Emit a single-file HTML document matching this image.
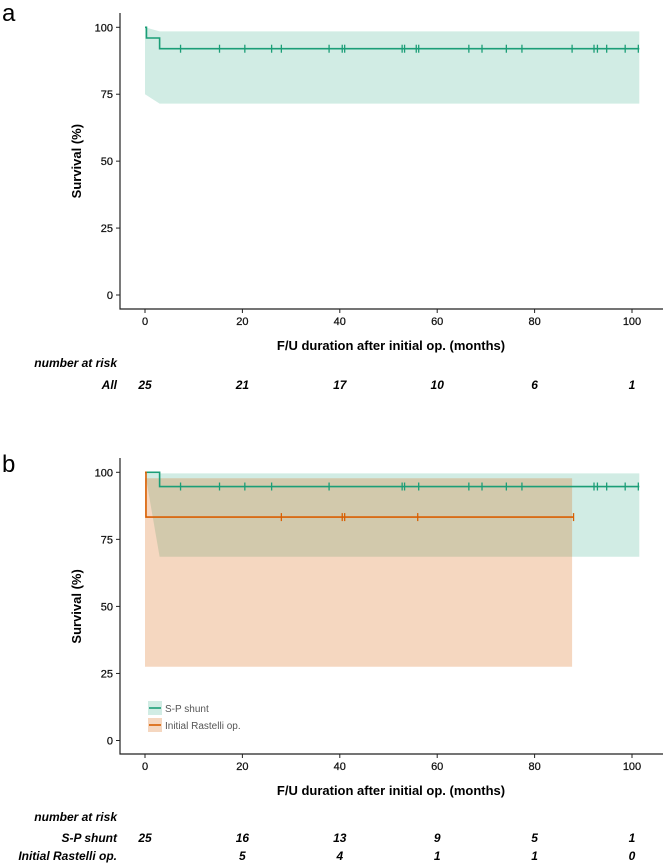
<!DOCTYPE html>
<html><head><meta charset="utf-8"><style>
body{margin:0;background:#fff}
svg{display:block;font-family:"Liberation Sans",sans-serif}
</style></head><body>
<svg id="c" width="669" height="866" viewBox="0 0 669 866"></svg>
<script>
const xTicks=[0,20,40,60,80,100];
const yTicks=[0,25,50,75,100];
const aTime=[0,0.3,3,101.5];
const aSurv=[100,96,92,92];
const aCens=[7.3,15.3,20.5,26,28,37.8,40.5,41,52.8,53.3,55.7,56.2,66.5,69.2,74.2,77.4,87.7,92.2,92.9,94.8,98.6,101.3];
const aUpperT=[0,3,101.5];const aUpper=[100,98.5,98.5];
const aLowerT=[0,3,101.5];const aLower=[75,71.5,71.5];
const aRisk=[25,21,17,10,6,1];
const spTime=[0,3,101.5];const spSurv=[100,94.7,94.7];
const spCens=[7.3,15.3,20.5,26,37.8,52.8,53.3,56.2,66.5,69.2,74.2,77.4,92.2,92.9,94.8,98.6,101.3];
const spUpperT=[0,101.5];const spUpper=[99.6,99.6];
const spLowerT=[0,3,101.5];const spLower=[100,68.5,68.5];
const raTime=[0,0.2,88];const raSurv=[100,83.3,83.3];
const raCens=[28,40.5,41,56,88];
const raUpperT=[0,87.7];const raUpper=[97.8,97.8];
const raLowerT=[0,87.7];const raLower=[27.5,27.5];
const spRisk=[25,16,13,9,5,1];
const raRisk=[null,5,4,1,1,0];

const svg=document.getElementById('c');const NS='http://www.w3.org/2000/svg';
function el(t,a,p){const e=document.createElementNS(NS,t);for(const k in a)e.setAttribute(k,a[k]);(p||svg).appendChild(e);return e;}
function txt(s,a,p){const e=el('text',a,p);e.textContent=s;return e;}
const X=v=>145+v*(632-145)/100;
const GREEN='#1b9e77',ORANGE='#d95f02';

function panel(o){
 const g=el('g',{});
 const Y=v=>o.y0+(o.y100-o.y0)*v/100;
 const lab=txt(o.letter,{x:2,y:o.letterY,'font-size':24,fill:'#000'},g);
 
 o.series.forEach(s=>{
  let d='M'+X(s.ut[0])+','+Y(s.u[0]);
  for(let i=1;i<s.ut.length;i++)d+=' L'+X(s.ut[i])+','+Y(s.u[i]);
  for(let i=s.lt.length-1;i>=0;i--)d+=' L'+X(s.lt[i])+','+Y(s.l[i]);
  const f=el('path',{d:d+'Z',fill:s.color,'fill-opacity':s.op},g);
  
 });
 o.series.forEach(s=>{
  let d='M'+X(s.t[0])+','+Y(s.s[0]);
  for(let i=1;i<s.t.length;i++)d+=' H'+X(s.t[i])+' V'+Y(s.s[i]);
  d+=' H'+X(s.t[s.t.length-1]);
  const p=el('path',{d:d,fill:'none',stroke:s.color,'stroke-width':1.6},g);
  
  const sv=s.s[s.s.length-1];
  s.c.forEach(c=>{const m=el('line',{x1:X(c),x2:X(c),y1:Y(sv)-4,y2:Y(sv)+4,stroke:s.color,'stroke-width':1.3},g);
   });
 });
 const ax=el('path',{d:`M120,${o.top} V${o.axisY} H663`,fill:'none',stroke:'#222','stroke-width':1.2},g);
 
 yTicks.forEach(v=>{el('line',{x1:116,x2:120,y1:Y(v),y2:Y(v),stroke:'#222'},g);
  const t=txt(v,{x:113,y:Y(v)+4,'font-size':11,'text-anchor':'end',fill:'#111',stroke:'#111','stroke-width':0.25},g);
  });
 xTicks.forEach(v=>{el('line',{x1:X(v),x2:X(v),y1:o.axisY,y2:o.axisY+4,stroke:'#222'},g);
  const t=txt(v,{x:X(v),y:o.axisY+16,'font-size':11,'text-anchor':'middle',fill:'#111',stroke:'#111','stroke-width':0.25},g);
  });
 const yt=txt('Survival (%)',{x:0,y:0,'font-size':13,'font-weight':'bold','text-anchor':'middle',transform:`translate(81,${(o.y0+o.y100)/2}) rotate(-90)`},g);
 
 const xt=txt('F/U duration after initial op. (months)',{x:391,y:o.axisY+41,'font-size':13,'font-weight':'bold','text-anchor':'middle'},g);
 
 const nr=txt('number at risk',{x:117,y:o.narY,'font-size':12,'font-weight':'bold','font-style':'italic','text-anchor':'end'},g);
 
 o.rows.forEach(r=>{
  const rl=txt(r.label,{x:117,y:r.y,'font-size':12,'font-weight':'bold','font-style':'italic','text-anchor':'end'},g);
  
  r.v.forEach((v,i)=>{if(v===null)return;
   const t=txt(v,{x:X(xTicks[i]),y:r.y,'font-size':12,'font-weight':'bold','font-style':'italic','text-anchor':'middle'},g);
   });
 });
 return {g,Y};
}

panel({name:'panel-a',letter:'a',letterY:21,y0:295,y100:27.3,top:13,axisY:309,narY:367,
 series:[{key:'all',color:GREEN,op:0.2,t:aTime,s:aSurv,c:aCens,ut:aUpperT,u:aUpper,lt:aLowerT,l:aLower}],
 rows:[{label:'All',y:389,v:aRisk}]});

const pb=panel({name:'panel-b',letter:'b',letterY:472,y0:740.5,y100:472.3,top:458,axisY:754,narY:821,
 series:[{key:'sp-shunt',color:GREEN,op:0.2,t:spTime,s:spSurv,c:spCens,ut:spUpperT,u:spUpper,lt:spLowerT,l:spLower},
         {key:'initial-rastelli',color:ORANGE,op:0.25,t:raTime,s:raSurv,c:raCens,ut:raUpperT,u:raUpper,lt:raLowerT,l:raLower}],
 rows:[{label:'S-P shunt',y:842,v:spRisk},{label:'Initial Rastelli op.',y:860,v:raRisk}]});

const lg=el('g',{});
[['S-P shunt',GREEN,0.2,708],['Initial Rastelli op.',ORANGE,0.25,725]].forEach(e=>{
 const it=el('g',{},lg);
 el('rect',{x:148,y:e[3]-7,width:14,height:14,fill:e[1],'fill-opacity':e[2]},it);
 el('line',{x1:149,x2:161,y1:e[3],y2:e[3],stroke:e[1],'stroke-width':1.6},it);
 txt(e[0],{x:165,y:e[3]+4,'font-size':10,fill:'#555'},it);
});
</script>
</body></html>
